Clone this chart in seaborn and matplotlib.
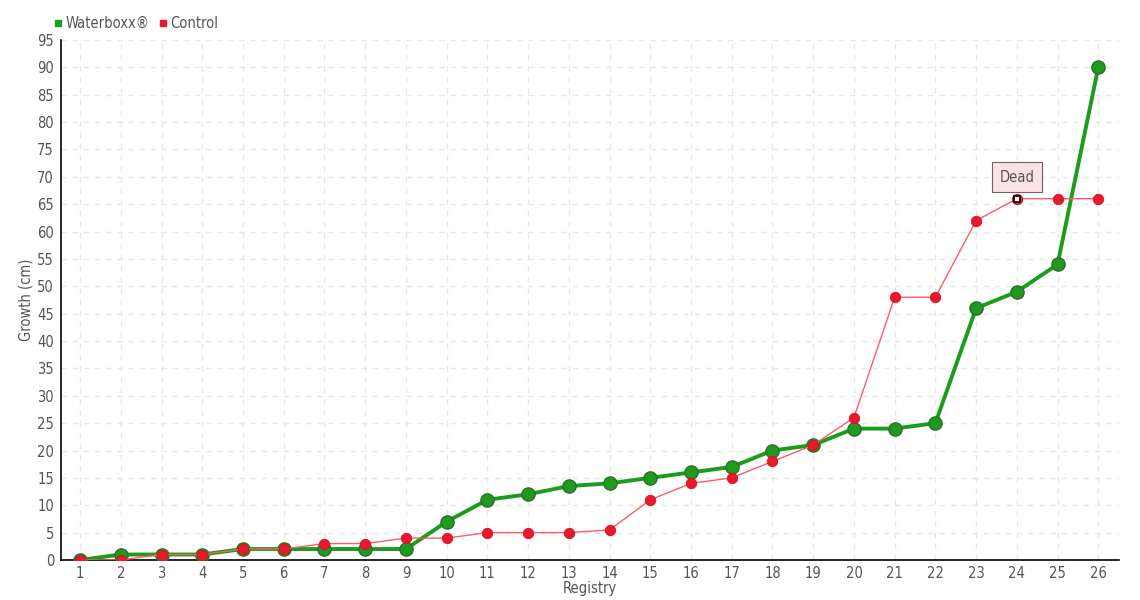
import pandas as pd
import matplotlib.pyplot as plt
import seaborn as sns

# Data
registry = list(range(1, 27))
waterboxx = [0, 1, 1, 1, 2, 2, 2, 2, 2, 7, 11, 12, 13.5, 14, 15, 16, 17, 20, 21, 24, 24, 25, 46, 49, 54, 90]
control = [0, 0, 1, 1, 2, 2, 3, 3, 4, 4, 5, 5, 5, 5.5, 11, 14, 15, 18, 21, 26, 48, 48, 62, 66, 66, 66]
dead_at = 24

df = pd.DataFrame({'Registry': registry, 'Waterboxx®': waterboxx, 'Control': control})

sns.set_style('white')
plt.rcParams['font.family'] = ['DejaVu Sans']
plt.rcParams['font.stretch'] = 'condensed'

text_color = '#555555'
green = '#1c9c1c'
red = '#e8192c'

fig = plt.figure(figsize=(11.4, 6), dpi=100)
ax = fig.add_axes([0.0535, 0.0667, 0.9285, 0.8667])

# Waterboxx series (thick green)
sns.lineplot(data=df, x='Registry', y='Waterboxx®', ax=ax, color=green, linewidth=2.8,
             marker='o', markersize=9.5, markerfacecolor='#1f9a1f', markeredgecolor='#2b6e2b',
             markeredgewidth=1, zorder=3)
# Control series (thin red), drawn over the green
sns.lineplot(data=df, x='Registry', y='Control', ax=ax, color='#ff5a66', linewidth=1,
             marker='o', markersize=7.5, markerfacecolor=red, markeredgecolor='#d8101f',
             markeredgewidth=0.6, zorder=4)

# "Dead" marker and label
dead_val = control[registry.index(dead_at)]
ax.plot([dead_at], [dead_val], marker='s', markersize=5, markerfacecolor='white',
        markeredgecolor='black', markeredgewidth=1.2, zorder=6)
ax.annotate('Dead', xy=(dead_at, dead_val), xytext=(0, 15.5), textcoords='offset points',
            ha='center', va='center', fontsize=10.5, color=text_color,
            bbox=dict(boxstyle='square,pad=0.5', facecolor='#fbe3e3', edgecolor='#666666', linewidth=0.8),
            zorder=7)

ax.set_xlim(0.53, 26.52)
ax.set_ylim(0, 95)
ax.set_xticks(registry)
ax.set_yticks(range(0, 96, 5))
ax.grid(True, color='#e8e8e8', linestyle=(0, (4, 4)), linewidth=1)
ax.set_axisbelow(True)

for side in ['top', 'right']:
    ax.spines[side].set_visible(False)
for side in ['left', 'bottom']:
    ax.spines[side].set_color('black')
    ax.spines[side].set_linewidth(1.2)

ax.tick_params(axis='both', direction='out', length=4, width=1, colors='black',
               labelcolor=text_color, labelsize=10.5, pad=1)
ax.tick_params(axis='x', pad=0)

ax.set_xlabel('Registry', fontsize=10.5, color=text_color, labelpad=0)
ax.set_ylabel('Growth (cm)', fontsize=10.5, color=text_color, labelpad=3)

# Legend
handles = [plt.Line2D([], [], linestyle='none', marker='s', markersize=5, color='#1fa01f'),
           plt.Line2D([], [], linestyle='none', marker='s', markersize=5, color=red)]
leg = fig.legend(handles, ['Waterboxx®', 'Control'], loc='upper left', bbox_to_anchor=(0.036, 0.995),
                 ncol=2, frameon=False, fontsize=10.5, handlelength=0.5, handletextpad=0.25,
                 columnspacing=0.7)
for t in leg.get_texts():
    t.set_color(text_color)

plt.savefig('out.png', dpi=100)
